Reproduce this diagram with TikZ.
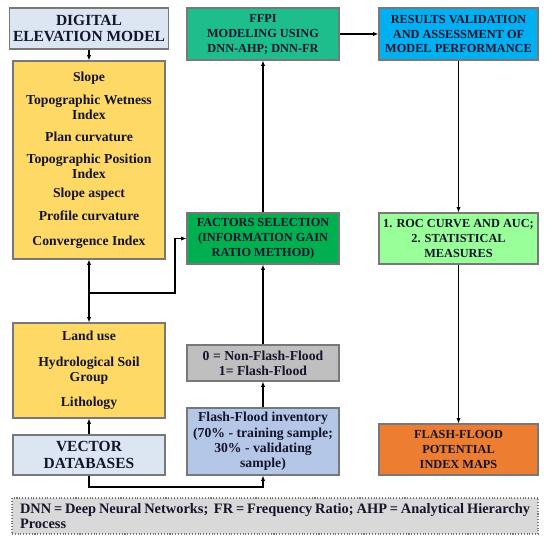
\documentclass[tikz,border=0pt]{standalone}
\usepackage{fontspec}
\setmainfont{Liberation Serif}
\usepackage{xcolor}
\usepackage{tikz}
\usetikzlibrary{arrows.meta,positioning,calc}
\definecolor{demblue}{RGB}{220, 230, 242}
\definecolor{factoryellow}{RGB}{255, 217, 102}
\definecolor{modelteal}{RGB}{30, 190, 140}
\definecolor{resultblue}{RGB}{0, 176, 240}
\definecolor{selectgreen}{RGB}{0, 176, 80}
\definecolor{rocgreen}{RGB}{153, 255, 153}
\definecolor{classgray}{RGB}{191, 191, 191}
\definecolor{inventoryblue}{RGB}{180, 199, 231}
\definecolor{maporange}{RGB}{237, 125, 49}
\definecolor{notegray}{RGB}{217, 217, 217}
\definecolor{edgegray}{RGB}{120, 120, 120}
\definecolor{inkdark}{RGB}{20, 20, 45}

\begin{document}
\begin{tikzpicture}[
  font=\bfseries\fontsize{7.8}{8.7}\selectfont, text=inkdark,
  box/.style={draw=edgegray, line width=0.6pt, align=center, inner sep=2pt},
  capsbox/.style={box, font=\bfseries\fontsize{7}{8.5}\selectfont},
  link/.style={-{Latex[length=3pt,width=2.4pt]}, line width=0.7pt}
]
  \useasboundingbox (0,0) rectangle (11,-11);
  % left column
  \node[box, fill=demblue, minimum width=3.04cm, minimum height=0.82cm,
        font=\bfseries\fontsize{8.8}{9.4}\selectfont] (dem) at (1.78,-0.57)
        {DIGITAL\\ELEVATION MODEL};
  \node[box, fill=factoryellow, minimum width=3.04cm, minimum height=3.96cm] (topo) at (1.78,-3.2)
        {Slope\\[4.4pt]Topographic Wetness\\Index\\[3.6pt]Plan curvature\\[4pt]Topographic Position\\Index\\[1.8pt]Slope aspect\\[4.4pt]Profile curvature\\[5.6pt]Convergence Index};
  \node[box, fill=factoryellow, minimum width=3.04cm, minimum height=1.9cm] (land) at (1.78,-7.41)
        {Land use\\[5.6pt]Hydrological Soil\\Group\\[5.6pt]Lithology};
  \node[box, fill=demblue, minimum width=3.04cm, minimum height=0.8cm,
        font=\bfseries\fontsize{8.8}{9.4}\selectfont] (vector) at (1.78,-9.1)
        {VECTOR\\DATABASES};
  % middle column
  \node[capsbox, fill=modelteal, minimum width=3.04cm, minimum height=1.04cm] (model) at (5.26,-0.68)
        {FFPI\\MODELING USING\\DNN-AHP; DNN-FR};
  \node[capsbox, fill=selectgreen, minimum width=3.04cm, minimum height=1.02cm] (select) at (5.26,-4.77)
        {FACTORS SELECTION\\(INFORMATION GAIN\\RATIO METHOD)};
  \node[box, fill=classgray, minimum width=3.04cm, minimum height=0.72cm] (classes) at (5.26,-7.26)
        {0 = Non-Flash-Flood\\1= Flash-Flood};
  \node[box, fill=inventoryblue, minimum width=3.04cm, minimum height=1.34cm] (inventory) at (5.26,-8.83)
        {Flash-Flood inventory\\(70\% - training sample;\\30\% - validating\\sample)};
  % right column
  \node[capsbox, fill=resultblue, minimum width=3.18cm, minimum height=1.04cm] (results) at (9.17,-0.68)
        {RESULTS VALIDATION\\AND ASSESSMENT OF\\MODEL PERFORMANCE};
  \node[capsbox, fill=rocgreen, minimum width=3.18cm, minimum height=1.02cm] (roc) at (9.17,-4.77)
        {1. ROC CURVE AND AUC;\\2. STATISTICAL\\MEASURES};
  \node[capsbox, fill=maporange, minimum width=3.18cm, minimum height=1.02cm] (maps) at (9.17,-8.99)
        {FLASH-FLOOD\\POTENTIAL\\INDEX MAPS};
  % legend
  \node[draw=edgegray, densely dotted, line width=0.6pt, fill=notegray, minimum width=10.52cm,
        minimum height=0.72cm, text width=10.2cm, align=justify, inner sep=2pt,
        font=\bfseries\fontsize{8.2}{9}\selectfont] (note) at (5.5,-10.32)
        {DNN = Deep Neural Networks;\ \ FR = Frequency Ratio; AHP = Analytical Hierarchy\linebreak Process};
  % connectors
  \coordinate (split) at (1.78,-5.86);
  \coordinate (turn) at (3.5,-5.86);
  \coordinate (low) at (1.78,-9.74);
  \draw[link] (dem) -- (topo);
  \draw[link] (split) -- (topo);
  \draw[link] (split) -- (land);
  \draw[link] (split) -- (turn) |- (select);
  \draw[link] (vector) -- (land);
  \draw[link] (vector) -- (low) -| (inventory);
  \draw[link] (inventory) -- (classes);
  \draw[link] (classes) -- (select);
  \draw[link] (select) -- (model);
  \draw[link] (model) -- (results);
  \draw[link] (results) -- (roc);
  \draw[link] (roc) -- (maps);
\end{tikzpicture}
\end{document}
